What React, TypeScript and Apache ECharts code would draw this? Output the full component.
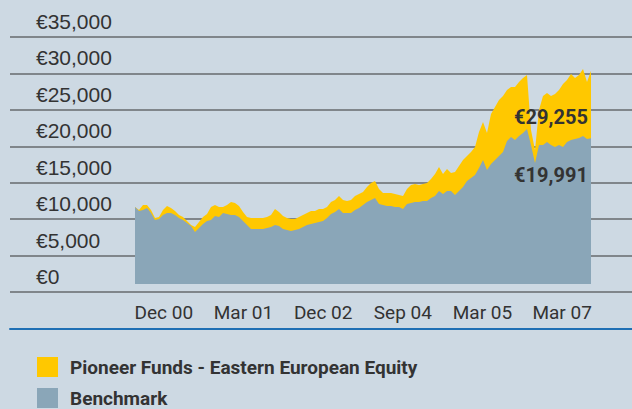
import React, { useEffect, useRef } from "react";
import * as echarts from "echarts";

const fundName = "Pioneer Funds - Eastern European Equity";
const benchmarkName = "Benchmark";

const fundValues = [
  10570, 10160, 10840, 10840, 10160, 9060, 9200, 10160, 10710, 10430,
  10020, 9470, 9200, 8650, 8100, 7820, 8510, 9200, 9610, 10570,
  10840, 10570, 10570, 10840, 11250, 11120, 10710, 9880, 9200, 9060,
  9060, 9060, 9060, 9200, 9470, 10290, 9880, 9330, 9060, 8920,
  8920, 9200, 9470, 9740, 10020, 10020, 10290, 10290, 10570, 11250,
  11530, 12080, 11530, 11390, 11530, 12080, 12350, 12630, 13310, 13860,
  14140, 13040, 12490, 12490, 12490, 12350, 12220, 12080, 13040, 13590,
  13730, 13590, 13730, 13860, 14410, 15100, 16060, 15100, 15780, 15240,
  15370, 16200, 17020, 17570, 18120, 18800, 20860, 22230, 20720, 23330,
  24290, 25250, 25800, 26630, 27040, 27040, 27730, 28270, 28690, 21140,
  18390, 23880, 25800, 26210, 25800, 26080, 26630, 27450, 28000, 28820,
  28270, 28690, 29510, 27730, 29255,
];

const benchmarkValues = [
  10570, 10020, 10160, 10430, 9740, 8780, 8920, 9470, 9740, 9740,
  9470, 9060, 8780, 8370, 7960, 7140, 7690, 8240, 8650, 8780,
  9330, 9200, 9740, 9610, 9470, 9470, 9200, 8650, 8100, 7550,
  7550, 7550, 7550, 7690, 7820, 8100, 7960, 7550, 7410, 7270,
  7410, 7550, 7820, 8100, 8240, 8370, 8510, 8650, 9060, 9610,
  9880, 10290, 9740, 9740, 9740, 10160, 10430, 10840, 11250, 11530,
  11800, 10980, 10840, 10710, 10710, 10570, 10570, 10290, 10980, 11120,
  11250, 11250, 11390, 11390, 11800, 12080, 12760, 12350, 12760, 12760,
  12220, 12760, 13310, 14140, 14550, 14960, 15920, 17020, 15650, 16470,
  17020, 17570, 18120, 19630, 20180, 19760, 20310, 20720, 21270, 19080,
  16610, 19080, 19080, 19490, 19080, 18800, 19080, 18800, 19490, 19760,
  19900, 20040, 20310, 19900, 19991,
];

const periods = fundValues.map((_, i) => String(i));
const tickLabels = ["Dec 00", "Mar 01", "Dec 02", "Sep 04", "Mar 05", "Mar 07"];
const yMin = 0;
const yMax = 35000;
const yStep = 5000;

const FONT_Y = '"Liberation Sans", Arial, sans-serif';
const FONT_C = 'Roboto, "Liberation Sans", sans-serif';
const BG = "#cdd9e3";
const YELLOW = "#ffc800";
const GREY = "#8aa6b8";
const TEXT = "#333333";

const euro = (v: number) => "€" + Math.round(v).toLocaleString("en-US");

export default function App() {
  const ref = useRef<HTMLDivElement>(null);
  useEffect(() => {
    if (!ref.current) return;
    const chart = echarts.init(ref.current, undefined, { renderer: "svg" });
    const last = periods.length - 1;
    const endMark = (value: number, offset: number[]) => ({
      symbol: "circle",
      symbolSize: 1,
      silent: true,
      itemStyle: { color: "rgba(0,0,0,0)" },
      label: {
        show: true,
        position: "inside",
        offset,
        formatter: () => euro(value),
        fontFamily: FONT_C,
        fontSize: 20,
        fontWeight: "bold",
        color: TEXT,
      },
      data: [{ coord: [periods[last], value], value }],
    });
    chart.setOption({
      animation: false,
      backgroundColor: BG,
      textStyle: { fontFamily: FONT_C },
      grid: [
        { left: 10, right: 0, top: 37, height: 255 },
        { left: 135, right: 41, top: 29, height: 255 },
        { left: 124, right: 30, top: 37, height: 255 },
      ],
      xAxis: [
        {
          gridIndex: 0,
          type: "value",
          min: 0,
          max: 1,
          offset: 37,
          axisLine: { show: true, onZero: false, lineStyle: { color: "#1f6fb4", width: 2 } },
          axisTick: { show: false },
          axisLabel: { show: false },
          splitLine: { show: false },
        },
        {
          gridIndex: 1,
          type: "category",
          data: periods,
          boundaryGap: false,
          show: false,
        },
        {
          gridIndex: 2,
          type: "category",
          data: tickLabels,
          boundaryGap: true,
          axisLine: { show: false },
          axisTick: { show: false },
          axisLabel: { interval: 0, margin: 11, fontSize: 19, color: TEXT, fontFamily: FONT_C },
        },
      ],
      yAxis: [
        {
          gridIndex: 0,
          type: "value",
          min: yMin,
          max: yMax,
          interval: yStep,
          axisLine: { show: false },
          axisTick: { show: false },
          axisLabel: {
            inside: true,
            margin: 26,
            verticalAlign: "bottom",
            padding: [0, 0, 5, 0],
            fontSize: 21,
            color: TEXT,
            fontFamily: FONT_Y,
            formatter: (v: number) => euro(v),
          },
          splitLine: { show: true, lineStyle: { color: "#666a6e", width: 1.5 } },
        },
        { gridIndex: 1, type: "value", min: yMin, max: yMax, show: false },
        { gridIndex: 2, type: "value", show: false },
      ],
      legend: {
        orient: "vertical",
        left: 37,
        top: 357,
        height: 90,
        padding: 0,
        icon: "rect",
        itemWidth: 21,
        itemHeight: 20,
        itemGap: 11,
        data: [fundName, benchmarkName],
        textStyle: {
          fontFamily: FONT_C,
          fontSize: 19,
          fontWeight: "bold",
          color: TEXT,
          padding: [3, 0, 0, 7],
        },
      },
      series: [
        {
          name: fundName,
          type: "line",
          xAxisIndex: 1,
          yAxisIndex: 1,
          data: fundValues,
          showSymbol: false,
          symbol: "none",
          lineStyle: { width: 0 },
          itemStyle: { color: YELLOW },
          areaStyle: { color: YELLOW, opacity: 1 },
          z: 2,
          markPoint: endMark(fundValues[last], [-40, 46]),
        },
        {
          name: benchmarkName,
          type: "line",
          xAxisIndex: 1,
          yAxisIndex: 1,
          data: benchmarkValues,
          showSymbol: false,
          symbol: "none",
          lineStyle: { width: 0 },
          itemStyle: { color: GREY },
          areaStyle: { color: GREY, opacity: 1 },
          z: 3,
          markPoint: endMark(benchmarkValues[last], [-40, 37]),
        },
      ],
    });
    return () => chart.dispose();
  }, []);
  return (
    <div
      ref={ref}
      style={{ position: "fixed", left: 0, top: 0, width: 632, height: 409, background: BG }}
    />
  );
}
